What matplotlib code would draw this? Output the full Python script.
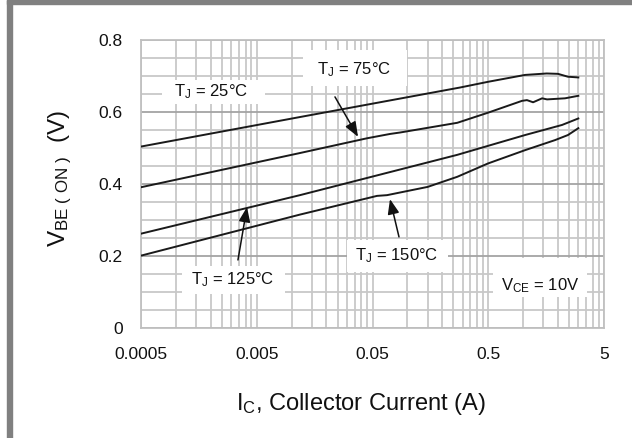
import matplotlib
matplotlib.use("Agg")
import matplotlib.pyplot as plt
from matplotlib.patches import Rectangle
from matplotlib.ticker import FixedLocator, NullFormatter

plt.rcParams['font.family'] = ['Liberation Sans', 'DejaVu Sans']
plt.rcParams['mathtext.fontset'] = 'custom'
plt.rcParams['mathtext.rm'] = 'Liberation Sans'
plt.rcParams['mathtext.it'] = 'Liberation Sans:italic'

# collector current (A) and V_BE(on) (V)
ic_25 = [0.0005, 0.0118, 0.285, 0.5, 1.04, 1.6, 2.0, 2.44, 3.0]
vbe_25 = [0.504, 0.586, 0.668, 0.684, 0.703, 0.707, 0.706, 0.698, 0.696]

ic_75 = [0.0005, 0.0118, 0.0448, 0.0708, 0.0864, 0.27, 0.497, 0.979, 1.08,
         1.22, 1.46, 1.61, 2.3, 3.0]
vbe_75 = [0.391, 0.486, 0.527, 0.539, 0.543, 0.570, 0.598, 0.631, 0.633,
          0.627, 0.638, 0.635, 0.638, 0.645]

ic_125 = [0.0005, 0.0118, 0.27, 1.04, 2.17, 3.0]
vbe_125 = [0.262, 0.369, 0.481, 0.536, 0.564, 0.582]

ic_150 = [0.0005, 0.0118, 0.0547, 0.0667, 0.15, 0.27, 0.497, 1.04, 1.89, 2.44, 3.0]
vbe_150 = [0.201, 0.315, 0.367, 0.369, 0.392, 0.420, 0.457, 0.494, 0.522, 0.536, 0.555]

x_ticks = [0.0005, 0.005, 0.05, 0.5, 5]
x_tick_labels = ["0.0005", "0.005", "0.05", "0.5", "5"]
y_ticks = [0, 0.2, 0.4, 0.6, 0.8]
y_tick_labels = ["0", "0.2", "0.4", "0.6", "0.8"]

W, H = 632, 438
fig = plt.figure(figsize=(W / 100, H / 100), dpi=100)
fig.patch.set_facecolor("white")
# grey frame of the screenshot
fig.patches.append(Rectangle((7 / W, 0), 5 / W, 1, transform=fig.transFigure,
                             color="#808080", zorder=0))
fig.patches.append(Rectangle((7 / W, 1 - 3.5 / H), 1, 3.5 / H, transform=fig.transFigure,
                             color="#808080", zorder=0))

L, R, T, B = 141, 604, 40, 328
ax = fig.add_axes([L / W, 1 - B / H, (R - L) / W, (B - T) / H])
ax.set_xscale("log")
ax.set_xlim(0.0005, 5)
ax.set_ylim(0, 0.8)

minor_x = [k * 0.0005 * 10 ** n for n in range(4) for k in range(2, 10)]
ax.xaxis.set_major_locator(FixedLocator(x_ticks))
ax.xaxis.set_minor_locator(FixedLocator(minor_x))
ax.set_xticks(x_ticks, x_tick_labels)
ax.xaxis.set_minor_formatter(NullFormatter())
ax.set_yticks(y_ticks, y_tick_labels)
ax.yaxis.set_minor_locator(FixedLocator([i * 0.05 for i in range(17)]))
ax.tick_params(which="both", length=0, labelsize=12.5, colors="#111111")
ax.tick_params(axis="x", pad=14)
ax.tick_params(axis="y", pad=13)

ax.set_axisbelow(True)
ax.grid(True, axis="x", which="both", color="#c8c8c8", lw=1.3)
ax.grid(True, axis="y", which="minor", color="#c8c8c8", lw=1.3)
ax.grid(True, axis="y", which="major", color="#a4a4a4", lw=1.3)
for s in ax.spines.values():
    s.set_color("#c0c0c0")
    s.set_linewidth(1.3)

for ic, v in [(ic_25, vbe_25), (ic_75, vbe_75), (ic_125, vbe_125), (ic_150, vbe_150)]:
    ax.plot(ic, v, color="#1a1a1a", lw=1.4, zorder=3)

# white label boxes (pixel extents)
def box(x0, y0, x1, y1):
    ax.add_patch(Rectangle(((x0 - L) / (R - L), (B - y1) / (B - T)),
                           (x1 - x0) / (R - L), (y1 - y0) / (B - T),
                           transform=ax.transAxes, facecolor="white",
                           edgecolor="none", zorder=1))

box(162, 80, 265, 104)
box(303, 50, 407, 86)
box(182, 266, 285, 294)
box(347, 240, 448, 272)
box(493, 258, 587, 297)

tk = dict(fontsize=12, color="#111111", ha="center", va="center", zorder=4)
ax.text(0.002, 0.656, r"T$_\mathrm{J}$ = 25°C", **tk)
ax.text(0.0346, 0.719, r"T$_\mathrm{J}$ = 75°C", **tk)
ax.text(0.00312, 0.133, r"T$_\mathrm{J}$ = 125°C", **tk)
ax.text(0.0814, 0.200, r"T$_\mathrm{J}$ = 150°C", **tk)
ax.text(1.40, 0.119, r"V$_\mathrm{CE}$ = 10V", **tk)

ap = dict(arrowstyle="-|>,head_length=0.9,head_width=0.35", color="#111111",
          lw=1.1, mutation_scale=10, shrinkA=0, shrinkB=0)
ax.annotate("", xy=(0.0375, 0.531), xytext=(0.0237, 0.642), arrowprops=ap, zorder=4)
ax.annotate("", xy=(0.00412, 0.336), xytext=(0.00344, 0.189), arrowprops=ap, zorder=4)
ax.annotate("", xy=(0.0708, 0.358), xytext=(0.0847, 0.253), arrowprops=ap, zorder=4)

fig.text(361 / W, 1 - 404 / H, r"I$_\mathrm{C}$, Collector Current (A)",
         fontsize=17, ha="center", va="center", color="#111111")
fig.text(60 / W, 1 - 179 / H, r"V$_\mathrm{BE\ (\ ON\ )}$  (V)", fontsize=17.5,
         rotation=90, ha="center", va="center", color="#111111")

fig.savefig("out.png", dpi=100, facecolor="white")
